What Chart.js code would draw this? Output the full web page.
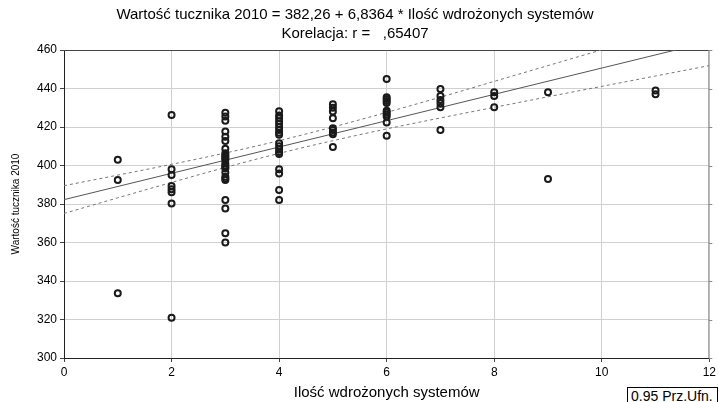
<!DOCTYPE html>
<html>
<head>
<meta charset="utf-8">
<script src="https://cdn.jsdelivr.net/npm/chart.js@4"></script>
<style>
  html, body { margin: 0; padding: 0; background: #fff; }
  #wrap { position: relative; width: 719px; height: 402px; overflow: hidden; }
  #legendBox { position: absolute; left: 627px; top: 387px; border: 1px solid #000; padding: 0px 4px 4px 3px;
    font: 14px "Liberation Sans", Arial, sans-serif; color: #000; background: #fff; white-space: nowrap; }
</style>
</head>
<body>
<div id="wrap">
  <canvas id="c" width="719" height="402"></canvas>
  <div id="legendBox">0.95 Prz.Ufn.</div>
</div>
<script>
// ---- data ----
const titleLines = ["Wartość tucznika 2010 = 382,26 + 6,8364 * Ilość wdrożonych systemów", "Korelacja: r =   ,65407"];
const xTitle = "Ilość wdrożonych systemów";
const yTitle = "Wartość tucznika 2010";

const pointX = [
  1, 1, 1,
  2, 2, 2, 2, 2, 2, 2, 2,
  3, 3, 3, 3, 3, 3, 3, 3, 3, 3, 3, 3, 3, 3, 3, 3, 3, 3, 3, 3, 3, 3, 3, 3,
  4, 4, 4, 4, 4, 4, 4, 4, 4, 4, 4, 4, 4, 4, 4, 4, 4, 4,
  5, 5, 5, 5, 5, 5, 5, 5, 5,
  6, 6, 6, 6, 6, 6, 6, 6, 6, 6, 6,
  7, 7, 7, 7, 7, 7,
  8, 8, 8,
  9, 9,
  11, 11
];
const pointY = [
  403.0, 392.5, 333.6,
  426.2, 398.0, 395.1, 389.4, 387.6, 386.1, 380.3, 320.9,
  427.4, 425.4, 423.3, 417.6, 415.0, 412.7, 408.7, 406.3, 405.5, 404.6, 403.8, 402.9, 401.2, 400.0, 399.2, 398.5, 396.3, 394.2, 393.3, 392.5, 382.1, 377.6, 364.8, 360.0,
  428.2, 426.0, 424.5, 423.0, 421.5, 420.0, 418.5, 417.0, 416.0, 411.5, 410.0, 408.5, 407.0, 406.0, 398.0, 395.8, 387.3, 382.1,
  431.8, 430.0, 428.0, 424.5, 419.3, 418.4, 417.2, 416.2, 409.6,
  444.9, 435.5, 434.5, 433.5, 432.5, 428.5, 427.5, 426.5, 425.5, 422.4, 415.5,
  439.7, 436.1, 434.0, 432.3, 430.2, 418.4,
  438.0, 436.1, 430.2,
  438.0, 393.0,
  438.9, 437.0
];

// regression line (from the equation in the title) and 0.95 confidence band, read at x = 0..12
const fitX = [0, 12];
const fitY = [382.26, 464.30];
const bandX = [0, 1, 2, 3, 4, 5, 6, 7, 8, 9, 10, 11, 12];
const bandUpper = [389.5, 395.0, 400.6, 406.5, 412.9, 420.0, 427.6, 435.5, 443.7, 451.9, 460.1, 468.4, 476.7];
const bandLower = [375.1, 383.2, 391.2, 399.0, 406.3, 412.9, 419.0, 424.7, 430.2, 435.7, 441.1, 446.5, 451.9];

const xTicks = [0, 2, 4, 6, 8, 10, 12];
const yTicks = [300, 320, 340, 360, 380, 400, 420, 440, 460];

// ---- build ----
const toXY = (xa, ya) => xa.map((x, i) => ({ x: x, y: ya[i] }));
const FONT = '"Liberation Sans", Arial, sans-serif';

const framePlugin = {
  id: 'frame',
  beforeDatasetsDraw(chart) {
    const a = chart.chartArea, ctx = chart.ctx;
    const ys = chart.scales.y;
    ctx.save();
    ctx.lineWidth = 1;
    ctx.strokeStyle = '#444';
    ctx.beginPath();
    ctx.moveTo(a.left, a.top + 0.5); ctx.lineTo(a.right, a.top + 0.5);
    ctx.stroke();
    ctx.strokeStyle = '#888';
    ctx.beginPath();
    ctx.moveTo(a.right - 0.5, a.top); ctx.lineTo(a.right - 0.5, a.bottom);
    yTicks.forEach(v => {
      const py = Math.round(ys.getPixelForValue(v)) + 0.5;
      ctx.moveTo(a.right - 0.5, py); ctx.lineTo(a.right + 3, py);
    });
    ctx.stroke();
    ctx.restore();
  }
};

new Chart(document.getElementById('c'), {
  type: 'scatter',
  data: {
    datasets: [
      {
        label: 'points',
        data: toXY(pointX, pointY),
        pointStyle: 'circle',
        pointRadius: 3,
        pointBorderWidth: 2,
        pointBorderColor: '#1a1a1a',
        pointBackgroundColor: 'rgba(255,255,255,0)',
        showLine: false,
        order: 0
      },
      {
        label: 'fit',
        data: toXY(fitX, fitY),
        showLine: true,
        borderColor: '#555',
        borderWidth: 1,
        pointRadius: 0,
        order: 1
      },
      {
        label: 'upper',
        data: toXY(bandX, bandUpper),
        showLine: true,
        borderColor: '#777',
        borderWidth: 1,
        borderDash: [3, 3],
        cubicInterpolationMode: 'monotone',
        pointRadius: 0,
        order: 1
      },
      {
        label: 'lower',
        data: toXY(bandX, bandLower),
        showLine: true,
        borderColor: '#777',
        borderWidth: 1,
        borderDash: [3, 3],
        cubicInterpolationMode: 'monotone',
        pointRadius: 0,
        order: 1
      }
    ]
  },
  options: {
    responsive: false,
    animation: false,
    events: [],
    layout: { padding: { top: 0, right: 9, left: 0, bottom: 0 } },
    plugins: {
      legend: { display: false },
      tooltip: { enabled: false },
      title: {
        display: true,
        text: titleLines,
        color: '#000',
        font: { family: FONT, size: 15, weight: 'normal', lineHeight: 1.3 },
        padding: { top: 5, bottom: 6 }
      }
    },
    scales: {
      x: {
        type: 'linear',
        min: 0, max: 12,
        afterFit(s) { s.height = 44; },
        afterBuildTicks(s) { s.ticks = xTicks.map(v => ({ value: v })); },
        ticks: { color: '#000', font: { family: FONT, size: 12 }, padding: 3, maxRotation: 0 },
        grid: { color: '#d0d0d0', lineWidth: 1, tickColor: '#444', tickLength: 4 },
        border: { color: '#222', width: 1 },
        title: { display: true, text: xTitle, color: '#000', font: { family: FONT, size: 15 }, padding: { top: 0, bottom: 0 } }
      },
      y: {
        type: 'linear',
        min: 300, max: 460,
        afterFit(s) { s.width = 64; },
        afterBuildTicks(s) { s.ticks = yTicks.map(v => ({ value: v })); },
        ticks: { color: '#000', font: { family: FONT, size: 12 }, padding: 3 },
        grid: { color: '#d0d0d0', lineWidth: 1, tickColor: '#444', tickLength: 4 },
        border: { color: '#222', width: 1 },
        title: { display: true, text: yTitle, color: '#000', font: { family: FONT, size: 10 }, padding: { top: 10, bottom: 0 } }
      }
    }
  },
  plugins: [framePlugin]
});
</script>
</body>
</html>
